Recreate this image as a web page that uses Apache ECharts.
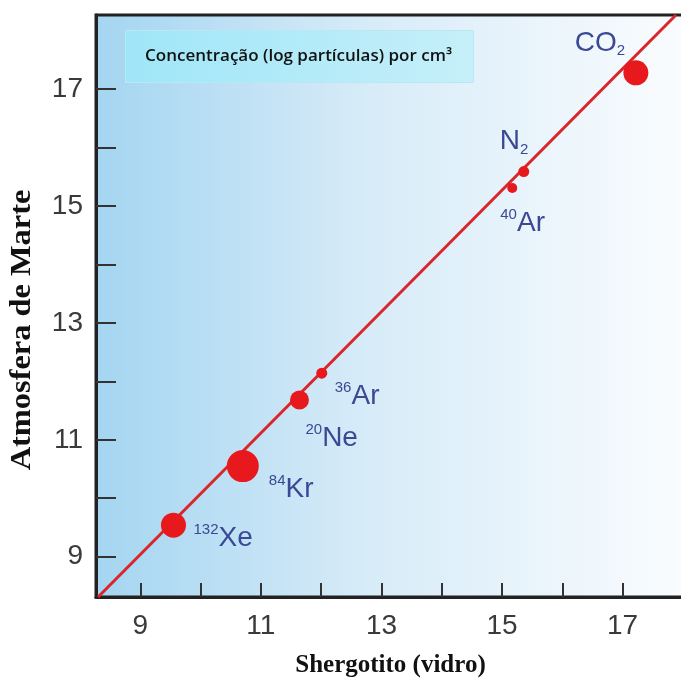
<!DOCTYPE html>
<html>
<head>
<meta charset="utf-8">
<script src="https://cdn.jsdelivr.net/npm/echarts@6/dist/echarts.min.js"></script>
<style>
  html, body { margin: 0; padding: 0; background: #fff; }
  #main { width: 681px; height: 680px; }
</style>
</head>
<body>
<div id="main"></div>
<script>
// species (label text uses rich tags for sup/sub)
var especies = ['{sup|132}{m|Xe}', '{sup|84}{m|Kr}', '{sup|20}{m|Ne}', '{sup|36}{m|Ar}', '{sup|40}{m|Ar}', '{m|N}{sub|2}', '{m|CO}{sub|2}'];
// x: Shergotito (vidro), y: Atmosfera de Marte  (log particles per cm3)
var shergotito = [9.55, 10.70, 11.64, 12.01, 15.17, 15.36, 17.22];
var atmosfera  = [9.54, 10.55, 11.68, 12.14, 15.31, 15.59, 17.28];
// correlation line end points
var retaX = [8.30, 17.885];
var retaY = [8.31, 18.27];
// ticks
var xTicks = [9, 10, 11, 12, 13, 14, 15, 16, 17];
var xLabels = [9, 11, 13, 15, 17];
var yTicks = [9, 10, 11, 12, 13, 14, 15, 16, 17];
var yLabels = [9, 11, 13, 15, 17];

// styling per point (dot diameter, label offset)
var dotSize = [25, 32, 19, 11, 10, 11, 25];
var labelOff = [[20, 13], [26, 23], [6, 38], [13, 23], [-12, 35], [-24, -30], [-61, -30]];

var myChart = echarts.init(document.getElementById('main'));

var pontos = [];
for (var i = 0; i < shergotito.length; i++) {
    pontos.push({
        value: [shergotito[i], atmosfera[i]],
        symbolSize: dotSize[i],
        label: {
            show: true,
            formatter: especies[i],
            position: 'inside',
            align: 'left',
            verticalAlign: 'middle',
            offset: labelOff[i]
        }
    })
}

var reta = [];
for (var j = 0; j < retaX.length; j++) {
    reta.push([retaX[j], retaY[j]])
}

var eixoLabel = { fontFamily: 'Liberation Sans', fontSize: 28, color: '#3a3a3a' };

var option = {
    animation: false,
    grid: {
        left: 96, top: 15, right: -4, bottom: 83,
        outerBoundsMode: 'none',
        containLabel: false,
        show: true,
        borderWidth: 3,
        borderColor: '#222',
        backgroundColor: new echarts.graphic.LinearGradient(0, 0, 1, 0, [
            { offset: 0, color: '#a4d5f1' },
            { offset: 0.45, color: '#d6ebf8' },
            { offset: 1, color: '#fafcfe' }
        ])
    },
    xAxis: {
        type: 'value',
        min: 8.265,
        max: 18.035,
        name: 'Shergotito (vidro)',
        nameLocation: 'middle',
        nameGap: 56,
        nameTextStyle: { fontFamily: 'Liberation Serif', fontWeight: 'bold', fontSize: 25, color: '#111' },
        axisLine: { show: true, lineStyle: { color: '#222', width: 3 } },
        axisTick: { show: true, inside: true, length: 14, customValues: xTicks, lineStyle: { color: '#333', width: 2 } },
        axisLabel: Object.assign({ customValues: xLabels, margin: 15 }, eixoLabel),
        splitLine: { show: false }
    },
    yAxis: {
        type: 'value',
        min: 8.31,
        max: 18.27,
        axisLine: { show: true, lineStyle: { color: '#222', width: 3 } },
        axisTick: { show: true, inside: true, length: 20, customValues: yTicks, lineStyle: { color: '#333', width: 2 } },
        axisLabel: Object.assign({ customValues: yLabels, margin: 13 }, eixoLabel),
        splitLine: { show: false }
    },
    graphic: [{
        type: 'text',
        x: 22, y: 330,
        rotation: Math.PI / 2,
        scaleX: 1.08,
        style: {
            text: 'Atmosfera de Marte',
            font: 'bold 30px "Liberation Serif"',
            fill: '#111',
            align: 'center',
            verticalAlign: 'middle'
        }
    }, {
        type: 'rect',
        left: 125, top: 30,
        shape: { width: 348, height: 52 },
        style: {
            fill: new echarts.graphic.LinearGradient(0, 0, 1, 0, [
                { offset: 0, color: '#9fe6f8' },
                { offset: 1, color: '#c6eff9' }
            ]),
            stroke: '#b8e8f4',
            lineWidth: 1
        },
        z: 10
    }, {
        type: 'text',
        left: 145, top: 48,
        style: {
            text: 'Concentração (log partículas) por cm³',
            font: '600 17px "Open Sans"',
            fill: '#111'
        },
        z: 11
    }],
    series: [{
        type: 'line',
        data: reta,
        symbol: 'none',
        lineStyle: { color: '#d9262a', width: 3 },
        z: 2
    }, {
        type: 'scatter',
        data: pontos,
        itemStyle: { color: '#e8191c', opacity: 1 },
        label: {
            fontFamily: 'Liberation Sans',
            color: '#3b4894',
            rich: {
                m: { fontSize: 28, lineHeight: 32, color: '#3b4894', fontFamily: 'Liberation Sans' },
                sup: { fontSize: 15, lineHeight: 32, verticalAlign: 'top', color: '#3b4894', fontFamily: 'Liberation Sans' },
                sub: { fontSize: 15, lineHeight: 32, verticalAlign: 'bottom', color: '#3b4894', fontFamily: 'Liberation Sans' }
            }
        },
        z: 3
    }]
};

myChart.setOption(option);
</script>
</body>
</html>
